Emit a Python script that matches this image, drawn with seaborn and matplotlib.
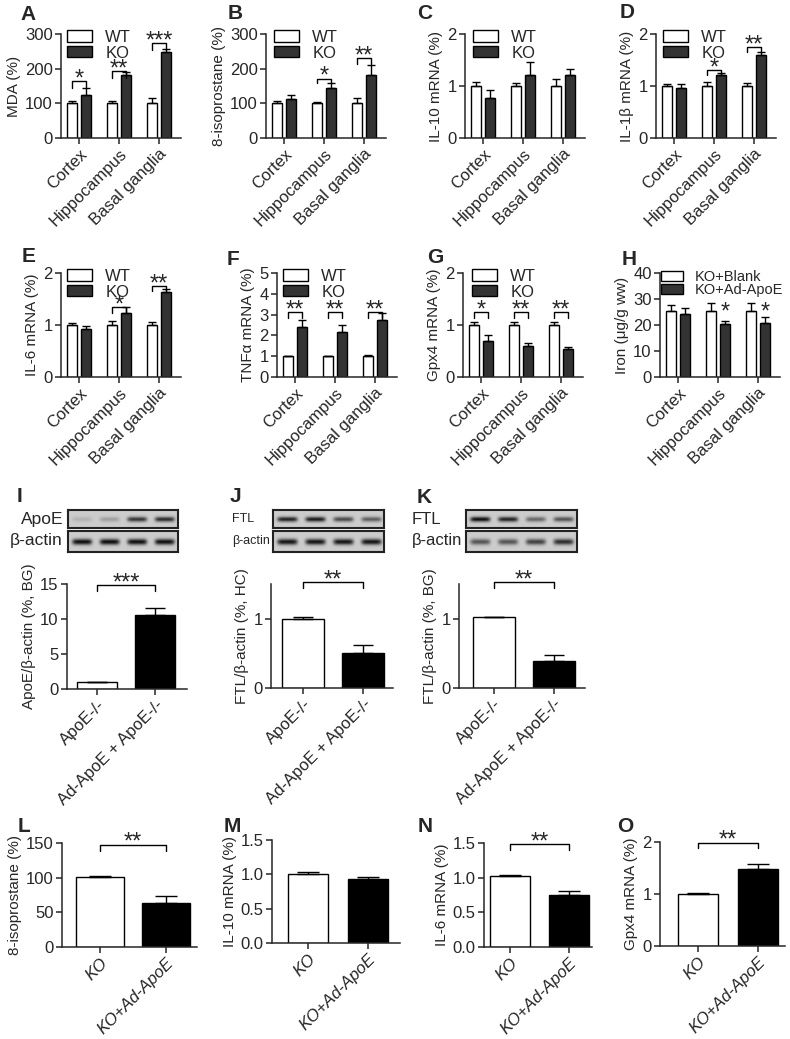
import numpy as np
import pandas as pd
import matplotlib
matplotlib.use("Agg")
import matplotlib.pyplot as plt
import seaborn as sns
from matplotlib.patches import Patch

sns.set_style("ticks")
plt.rcParams["font.family"] = ["Liberation Sans", "DejaVu Sans"]
plt.rcParams["axes.linewidth"] = 1.1
plt.rcParams["xtick.major.width"] = 1.1
plt.rcParams["ytick.major.width"] = 1.1
plt.rcParams["xtick.major.size"] = 4
plt.rcParams["ytick.major.size"] = 4
plt.rcParams["xtick.major.pad"] = 2
plt.rcParams["ytick.major.pad"] = 2

# ---------------- data ----------------
regions = ["Cortex", "Hippocampus", "Basal ganglia"]
wt_ko = ["WT", "KO"]
blank_ad = ["KO+Blank", "KO+Ad-ApoE"]

mda_wt = [100, 100, 100]
mda_wt_err = [8, 6, 15]
mda_ko = [123, 182, 247]
mda_ko_err = [21, 7, 11]

iso_wt = [100, 100, 100]
iso_wt_err = [7, 5, 15]
iso_ko = [112, 145, 181]
iso_ko_err = [12, 13, 30]

il10_wt = [1.0, 1.0, 1.0]
il10_wt_err = [0.08, 0.06, 0.14]
il10_ko = [0.77, 1.21, 1.21]
il10_ko_err = [0.16, 0.25, 0.11]

il1b_wt = [1.0, 1.0, 1.0]
il1b_wt_err = [0.04, 0.07, 0.05]
il1b_ko = [0.96, 1.21, 1.59]
il1b_ko_err = [0.08, 0.04, 0.06]

il6_wt = [1.0, 1.0, 1.0]
il6_wt_err = [0.04, 0.07, 0.05]
il6_ko = [0.93, 1.24, 1.63]
il6_ko_err = [0.05, 0.10, 0.06]

tnf_wt = [1.0, 1.0, 1.0]
tnf_wt_err = [0.03, 0.02, 0.04]
tnf_ko = [2.39, 2.16, 2.74]
tnf_ko_err = [0.34, 0.32, 0.36]

gpx4_wt = [1.0, 1.0, 1.0]
gpx4_wt_err = [0.06, 0.06, 0.06]
gpx4_ko = [0.70, 0.60, 0.53]
gpx4_ko_err = [0.10, 0.05, 0.04]

iron_blank = [25.3, 25.3, 25.3]
iron_blank_err = [2.3, 3.2, 3.2]
iron_ad = [24.4, 20.3, 20.8]
iron_ad_err = [2.1, 1.3, 2.2]

wb_groups = ["ApoE-/-", "Ad-ApoE + ApoE-/-"]
apoe_ratio = [1.0, 10.6]
apoe_ratio_err = [0.05, 1.0]
ftl_hc = [1.0, 0.51]
ftl_hc_err = [0.03, 0.11]
ftl_bg = [1.02, 0.39]
ftl_bg_err = [0.01, 0.09]

ko_groups = ["KO", "KO+Ad-ApoE"]
iso2 = [101, 64]
iso2_err = [1.5, 9]
il10_2 = [1.01, 0.93]
il10_2_err = [0.02, 0.035]
il6_2 = [1.02, 0.75]
il6_2_err = [0.015, 0.06]
gpx4_2 = [1.0, 1.48]
gpx4_2_err = [0.02, 0.10]

# western blot band intensities (per lane)
blot_i_apoe = [0.12, 0.22, 0.75, 0.8]
blot_i_actin = [0.95, 0.95, 0.95, 0.95]
blot_j_ftl = [0.85, 0.88, 0.65, 0.55]
blot_j_actin = [0.92, 0.92, 0.92, 0.92]
blot_k_ftl = [0.95, 0.85, 0.5, 0.6]
blot_k_actin = [0.6, 0.6, 0.7, 0.8]

# ---------------- helpers ----------------
W, H = 790, 1039
fig = plt.figure(figsize=(W / 100, H / 100), dpi=100)
WHITE = "white"
DARK = "#333333"
BLACK = "#000000"
FS_TICK = 12
FS_LAB = 11
STAR_FS = 17


def px_axes(l, t, r, b):
    return fig.add_axes([l / W, 1 - b / H, (r - l) / W, (b - t) / H])


def letter(x, y, s):
    fig.text(x / W, 1 - y / H, s, fontsize=15, fontweight="bold", ha="left", va="baseline")


def bracket(ax, x1, x2, y, drop, label):
    ax.plot([x1, x1, x2, x2], [y - drop, y, y, y - drop], color="black", lw=1, clip_on=False)
    ax.annotate(label, xy=((x1 + x2) / 2, y), xytext=(0, -3), textcoords="offset points",
                ha="center", va="baseline", fontsize=STAR_FS, annotation_clip=False)


def style_axes(ax, ymax, yticks, yticklabels, ylabel, xlim, xlabels, italic=False):
    ax.set_ylim(0, ymax)
    ax.set_yticks(yticks)
    ax.set_yticklabels(yticklabels, fontsize=FS_TICK)
    ax.set_xlim(*xlim)
    ax.set_xticks(range(len(xlabels)))
    ax.set_xticklabels(xlabels, rotation=45, ha="right", rotation_mode="anchor", fontsize=FS_TICK,
                       style="italic" if italic else "normal")
    ax.set_xlabel("")
    ax.set_ylabel(ylabel, fontsize=FS_LAB, labelpad=3)
    sns.despine(ax=ax)


def grouped_panel(geom, wt, wt_err, ko, ko_err, labels, ymax, yticks, ylabel, leg_anchor,
                  brackets=(), leg_fs=12, leg_spacing=0.05, stars=()):
    l, t = geom
    ax = px_axes(l, t, l + 120, t + 104)
    df = pd.DataFrame({"region": regions * 2,
                       "group": [labels[0]] * 3 + [labels[1]] * 3,
                       "value": list(wt) + list(ko)})
    sns.barplot(data=df, x="region", y="value", hue="group", hue_order=labels,
                palette=[WHITE, DARK], edgecolor="black", linewidth=1, width=0.72, gap=0.27,
                errorbar=None, legend=False, ax=ax)
    centers = []
    for cont, err in zip(ax.containers, [wt_err, ko_err]):
        xs = [p.get_x() + p.get_width() / 2 for p in cont]
        hs = [p.get_height() for p in cont]
        centers.append(xs)
        ax.errorbar(xs, hs, yerr=[np.zeros(len(err)), err], fmt="none", ecolor="black",
                    elinewidth=1, capsize=3, capthick=1, zorder=1)
    style_axes(ax, ymax, yticks, [f"{v:g}" for v in yticks], ylabel, (-0.45, 2.55), regions)
    for gi, y, drop, lab in brackets:
        bracket(ax, centers[0][gi], centers[1][gi], y, drop, lab)
    for gi, y in stars:
        ax.text(centers[1][gi], y, "*", ha="center", va="baseline", fontsize=STAR_FS)
    handles = [Patch(facecolor=WHITE, edgecolor="black", label=labels[0]),
               Patch(facecolor=DARK, edgecolor="black", label=labels[1])]
    ax.legend(handles=handles, loc="upper left", bbox_to_anchor=leg_anchor, frameon=False,
              fontsize=leg_fs, handlelength=1.5, handleheight=0.65, handletextpad=0.8,
              labelspacing=leg_spacing, borderpad=0, borderaxespad=0)
    return ax


def single_panel(geom, xlim, groups, vals, errs, ymax, yticks, yticklabels, ylabel,
                 width, capsize, brk=None, italic=False):
    l, t, r, b = geom
    ax = px_axes(l, t, r, b)
    sns.barplot(x=groups, y=vals, hue=groups, palette=[WHITE, BLACK], edgecolor="black",
                linewidth=1, width=width, errorbar=None, legend=False, ax=ax, dodge=False)
    bars = sorted(ax.patches, key=lambda p: p.get_x())
    xs = [p.get_x() + p.get_width() / 2 for p in bars]
    hs = [p.get_height() for p in bars]
    ax.errorbar(xs, hs, yerr=[np.zeros(len(errs)), errs], fmt="none", ecolor="black",
                elinewidth=1, capsize=capsize, capthick=1, zorder=1)
    style_axes(ax, ymax, yticks, yticklabels, ylabel, xlim, groups, italic=italic)
    if brk is not None:
        y, drop, lab = brk
        bracket(ax, xs[0], xs[1], y, drop, lab)
    return ax


def draw_blot(geom, intensities):
    l, t, r, b = geom
    ax = px_axes(l, t, r, b)
    nl = len(intensities)
    hgt, lw = 30, 30
    yy = np.arange(hgt)[:, None]
    xx = np.arange(lw)[None, :]
    img = np.full((hgt, nl * lw), 0.80)
    prof = np.exp(-((yy - hgt / 2) / (hgt * 0.14)) ** 2) * np.exp(-((xx - lw / 2) / (lw * 0.36)) ** 6)
    for i, inten in enumerate(intensities):
        img[:, i * lw:(i + 1) * lw] -= 0.78 * inten * prof
    ax.imshow(img, cmap="gray", vmin=0, vmax=1, aspect="auto", interpolation="bilinear")
    ax.set_xticks([])
    ax.set_yticks([])
    for s in ax.spines.values():
        s.set_linewidth(1.5)
        s.set_color("#222222")
    return ax


# ---------------- row 1 ----------------
grouped_panel((61, 34), mda_wt, mda_wt_err, mda_ko, mda_ko_err, wt_ko, 300, [0, 100, 200, 300],
              "MDA (%)", (0.05, 1.04),
              brackets=[(0, 163, 19, "*"), (1, 192, 19, "**"), (2, 274, 19, "***")])
grouped_panel((266, 34), iso_wt, iso_wt_err, iso_ko, iso_ko_err, wt_ko, 300, [0, 100, 200, 300],
              "8-isoprostane (%)", (0.067, 1.04),
              brackets=[(1, 171, 13, "*"), (2, 230, 17, "**")])
grouped_panel((465, 34), il10_wt, il10_wt_err, il10_ko, il10_ko_err, wt_ko, 2, [0, 1, 2],
              "IL-10 mRNA (%)", (0.067, 1.04))
grouped_panel((656, 34), il1b_wt, il1b_wt_err, il1b_ko, il1b_ko_err, wt_ko, 2, [0, 1, 2],
              "IL-1β mRNA (%)", (0.058, 1.04),
              brackets=[(1, 1.30, 0.09, "*"), (2, 1.75, 0.10, "**")])

# ---------------- row 2 ----------------
grouped_panel((61, 273), il6_wt, il6_wt_err, il6_ko, il6_ko_err, wt_ko, 2, [0, 1, 2],
              "IL-6 mRNA (%)", (0.05, 1.04),
              brackets=[(1, 1.34, 0.10, "*"), (2, 1.75, 0.09, "**")])
grouped_panel((277, 273), tnf_wt, tnf_wt_err, tnf_ko, tnf_ko_err, wt_ko, 5, [0, 1, 2, 3, 4, 5],
              "TNFα mRNA (%)", (0.05, 1.04),
              brackets=[(0, 3.11, 0.29, "**"), (1, 3.11, 0.29, "**"), (2, 3.11, 0.29, "**")])
grouped_panel((463, 273), gpx4_wt, gpx4_wt_err, gpx4_ko, gpx4_ko_err, wt_ko, 2, [0, 1, 2],
              "Gpx4 mRNA (%)", (0.075, 1.04),
              brackets=[(0, 1.25, 0.12, "*"), (1, 1.25, 0.12, "**"), (2, 1.25, 0.12, "**")])
grouped_panel((660, 273), iron_blank, iron_blank_err, iron_ad, iron_ad_err, blank_ad, 40,
              [0, 10, 20, 30, 40], "Iron (μg/g ww)", (0.008, 1.03), leg_fs=10.5, leg_spacing=-0.05,
              stars=[(1, 22.6), (2, 22.6)])

# ---------------- row 3: blots + bars ----------------
draw_blot((68, 510, 178, 528), blot_i_apoe)
draw_blot((68, 531, 178, 552), blot_i_actin)
draw_blot((273, 510, 384, 528), blot_j_ftl)
draw_blot((273, 531, 384, 552), blot_j_actin)
draw_blot((466, 510, 577, 528), blot_k_ftl)
draw_blot((466, 531, 577, 552), blot_k_actin)
fig.text(63 / W, 1 - 519 / H, "ApoE", ha="right", va="center", fontsize=12.5)
fig.text(63 / W, 1 - 541 / H, "β-actin", ha="right", va="center", fontsize=12.5)
fig.text(232 / W, 1 - 519 / H, "FTL", ha="left", va="center", fontsize=9)
fig.text(232 / W, 1 - 541 / H, "β-actin", ha="left", va="center", fontsize=9)
fig.text(412 / W, 1 - 519 / H, "FTL", ha="left", va="center", fontsize=12)
fig.text(412 / W, 1 - 541 / H, "β-actin", ha="left", va="center", fontsize=12)

single_panel((67, 584, 187, 689), (-0.52, 1.55), wb_groups, apoe_ratio, apoe_ratio_err, 15,
             [0, 5, 10, 15], ["0", "5", "10", "15"], "ApoE/β-actin (%, BG)", 0.69, 7,
             brk=(14.8, 0.85, "***"))
single_panel((271, 584, 393, 688), (-0.53, 1.5), wb_groups, ftl_hc, ftl_hc_err, 1.5,
             [0, 1], ["0", "1"], "FTL/β-actin (%, HC)", 0.69, 7, brk=(1.53, 0.09, "**"))
single_panel((459, 584, 585, 688), (-0.58, 1.52), wb_groups, ftl_bg, ftl_bg_err, 1.5,
             [0, 1], ["0", "1"], "FTL/β-actin (%, BG)", 0.69, 7, brk=(1.53, 0.09, "**"))

# ---------------- row 4 ----------------
single_panel((62, 843, 197, 947), (-0.58, 1.47), ko_groups, iso2, iso2_err, 150,
             [0, 50, 100, 150], ["0", "50", "100", "150"], "8-isoprostane (%)", 0.72, 8,
             brk=(147.5, 8.5, "**"), italic=True)
single_panel((272, 840, 400, 943), (-0.6, 1.53), ko_groups, il10_2, il10_2_err, 1.5,
             [0, 0.5, 1.0, 1.5], ["0.0", "0.5", "1.0", "1.5"], "IL-10 mRNA (%)", 0.67, 8,
             italic=True)
single_panel((484, 843, 592, 947), (-0.43, 1.38), ko_groups, il6_2, il6_2_err, 1.5,
             [0, 0.5, 1.0, 1.5], ["0.0", "0.5", "1.0", "1.5"], "IL-6 mRNA (%)", 0.67, 8,
             brk=(1.485, 0.085, "**"), italic=True)
single_panel((660, 842, 785, 946), (-0.63, 1.45), ko_groups, gpx4_2, gpx4_2_err, 2,
             [0, 1, 2], ["0", "1", "2"], "Gpx4 mRNA (%)", 0.67, 8,
             brk=(1.99, 0.11, "**"), italic=True)

# ---------------- panel letters ----------------
for x, y, s in [(20, 20, "A"), (228, 19, "B"), (417, 19, "C"), (620, 18, "D"),
                (22, 262, "E"), (227, 265, "F"), (427, 263, "G"), (622, 265, "H"),
                (17, 502, "I"), (230, 502, "J"), (417, 503, "K"),
                (18, 832, "L"), (224, 832, "M"), (418, 832, "N"), (617, 832, "O")]:
    letter(x, y, s)

fig.savefig("out.png", dpi=100)
